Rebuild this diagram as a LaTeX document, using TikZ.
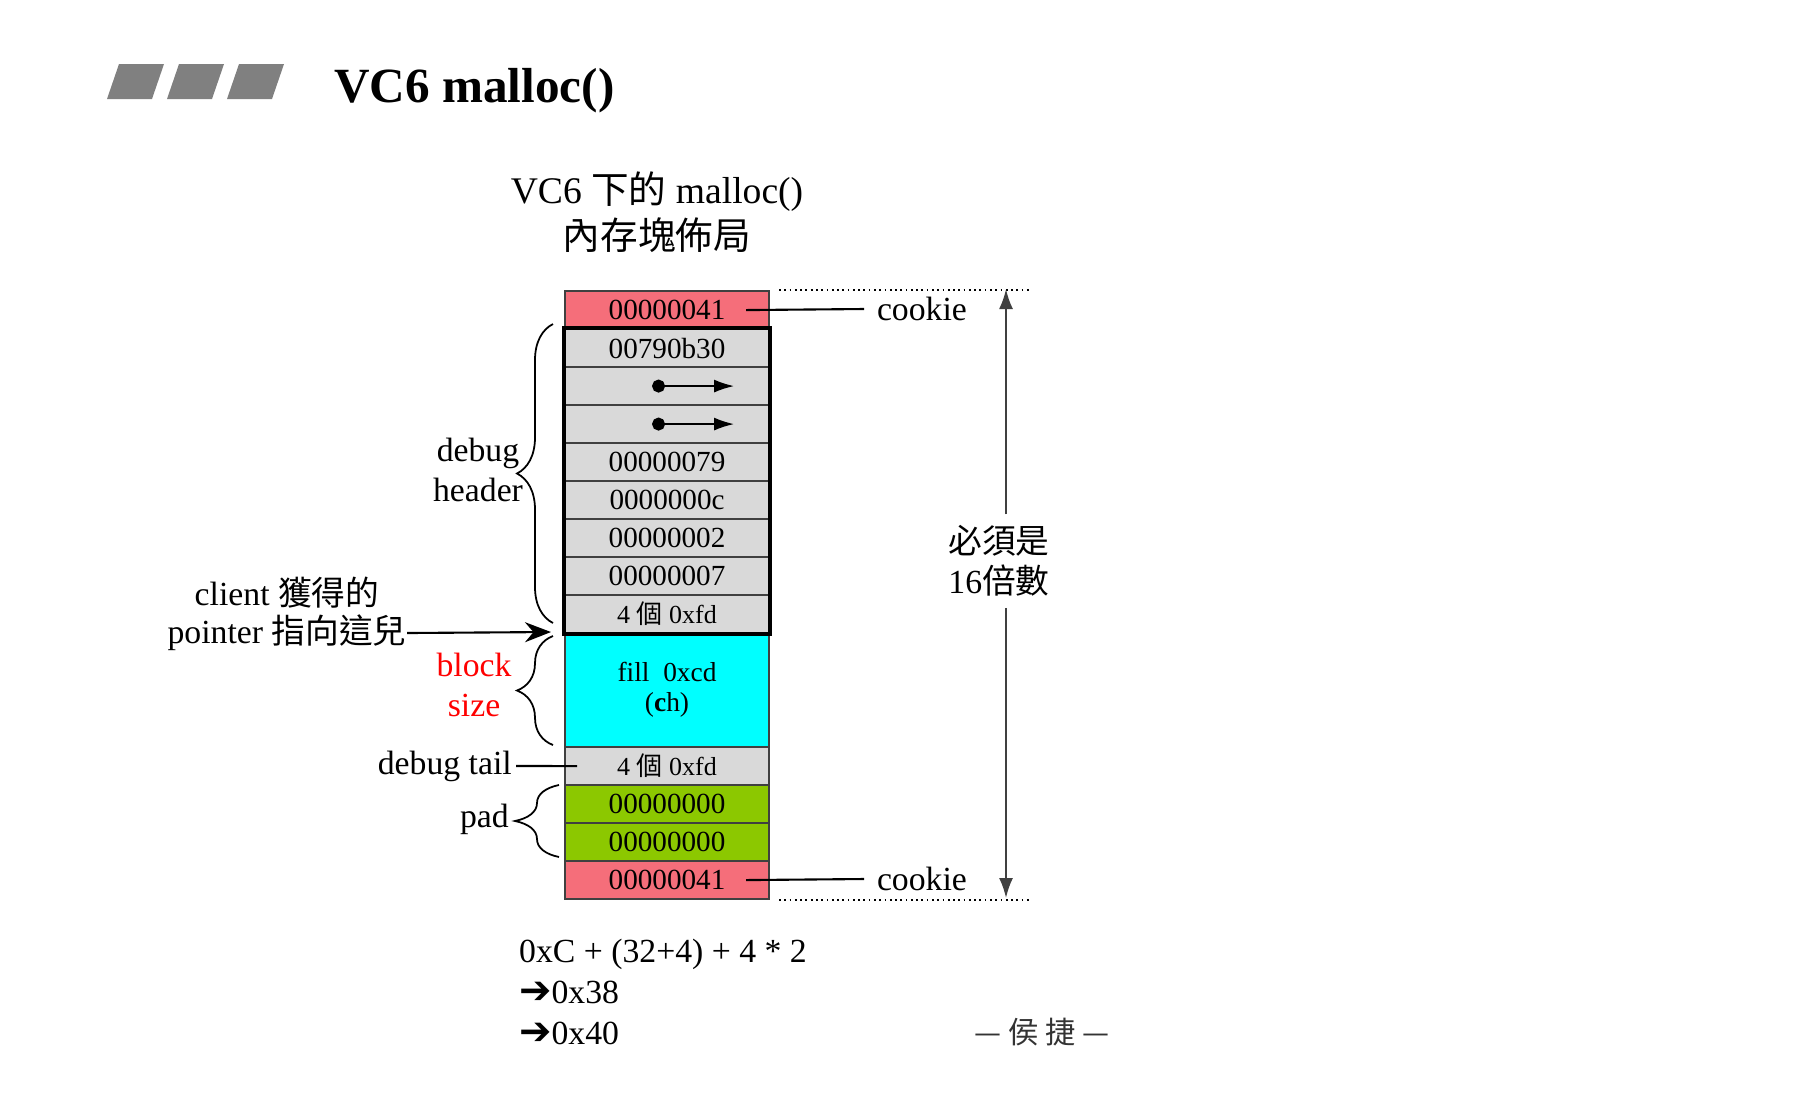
\documentclass[tikz,border=0pt]{standalone}
\usepackage{fontspec}
\setmainfont{Liberation Serif}
\newfontfamily\cjk{Noto Sans CJK TC}
\newfontfamily\symfont{DejaVu Sans}
\usetikzlibrary{positioning,decorations.pathreplacing,arrows.meta}
\definecolor{cookiered}{RGB}{245,110,122}
\definecolor{cellgray}{RGB}{217,217,217}
\definecolor{padgreen}{RGB}{140,200,0}
\definecolor{datacyan}{RGB}{0,255,255}
\definecolor{bargray}{RGB}{128,128,128}

\begin{document}
\begin{tikzpicture}[x=0.1mm,y=-0.1mm,
    cell/.style={draw=black!75,line width=0.6pt,fill=cellgray,minimum width=20.4mm,minimum height=3.8mm,
      inner sep=0pt,anchor=north west,font=\fontsize{8.3}{10}\selectfont},
    small/.style={font=\fontsize{7.4}{8.6}\selectfont},
    lbl/.style={font=\fontsize{9.6}{11.4}\selectfont,align=center,inner sep=1pt},
    brc/.style={decorate,decoration={brace,amplitude=3.6mm},line width=0.5pt},
    ptr/.style={{Circle[length=1.3mm]}-{Latex[length=2mm,width=1.3mm]},line width=0.5pt},
    dim/.style={-{Latex[length=2mm,width=1.4mm]},draw=black!75,line width=0.6pt},
    dots/.style={dash pattern=on 0.5pt off 1pt,line width=0.5pt}]
	\useasboundingbox (0,0) rectangle (1820,1118);
	%标题
	\foreach \i in {0,1,2}
		\fill[bargray] ({107+60*\i},99) -- ++(45,0) -- ++(12,-35) -- ++(-45,0) -- cycle;
	\node[anchor=base west,font=\fontsize{14}{16}\selectfont\bfseries] (title) at (322,102) {VC6 malloc()};
	\node[align=center,font=\fontsize{10.7}{13.1}\selectfont] (sub) at (657,212) {VC6 {\cjk 下的} malloc()\\{\cjk 內存塊佈局}};
	%内存块
	\node[cell,fill=cookiered] (ck-1) at (564,290) {00000041};
	\foreach \t [count=\i] in {00790b30,,,00000079,0000000c,00000002,00000007}
		\node[cell] (h-\i) at (564,{290+38*\i}) {\t};
	\node[cell,small] (h-8) at (564,594) {4 {\cjk 個} 0xfd};
	\node[cell,fill=datacyan,minimum height=11.4mm,align=center,font=\fontsize{7.8}{8.6}\selectfont] (data) at (564,632) {fill\ \ 0xcd\\(\textbf{c}h)};
	\node[cell,small] (tail) at (564,746) {4 {\cjk 個} 0xfd};
	\node[cell,fill=padgreen] (pad-1) at (564,784) {00000000};
	\node[cell,fill=padgreen] (pad-2) at (564,822) {00000000};
	\node[cell,fill=cookiered] (ck-2) at (564,860) {00000041};
	\draw[line width=1.3pt] (h-1.north west) rectangle (h-8.south east);
	\foreach \i in {2,3}
		\draw[ptr] ([xshift=-1.5mm]h-\i.center) -- ([xshift=6.7mm]h-\i.center);
	%右侧
	\node[lbl,anchor=west,inner sep=3.5pt] (ck-l1) at (864,309) {cookie};
	\node[lbl,anchor=west,inner sep=3.5pt] (ck-l2) at (864,879) {cookie};
	\draw[line width=0.6pt] ([xshift=7.9mm]ck-1.center) -- (ck-l1.west);
	\draw[line width=0.6pt] ([xshift=7.9mm]ck-2.center) -- (ck-l2.west);
	\draw[dots] ([xshift=0.9mm]ck-1.north east) -- ++(253,0);
	\draw[dots] ([xshift=0.9mm]ck-2.south east) -- ++(253,0);
	\node[lbl,inner sep=3pt] (mul) at (999,561) {{\cjk 必須是}\\16{\cjk 倍數}};
	\coordinate (m-top) at (1006,289);
	\coordinate (m-bot) at (1006,898);
	\draw[dim] (m-top |- mul.north) -- (m-top);
	\draw[dim] (m-bot |- mul.south) -- (m-bot);
	%左侧
	\draw[brc] (553,623) -- (553,324);
	\node[lbl] (dbg-h) at (478,470) {debug\\header};
	\node[lbl] (cl-1) at (287,593) {client {\cjk 獲得的}};
	\node[lbl,inner sep=0pt] (cl-2) at (287,633) {pointer {\cjk 指向這兒}};
	\coordinate (p-end) at (551,632);
	\draw[-{Stealth[length=2.6mm,width=2mm]},line width=0.6pt] (cl-2.east) -- (p-end);
	\draw[brc] (553,745) -- (553,636);
	\node[lbl,text=red] (blk) at (474,685) {block\\size};
	\node[lbl,anchor=east] (d-tail) at (516,766) {debug tail};
	\draw[line width=0.6pt] (d-tail.east) -- ([xshift=1.3mm]tail.west);
	\draw[brc,decoration={amplitude=4.4mm}] (559,857) -- (559,785);
	\node[lbl,anchor=east] (pad) at (513,819) {pad};
	%计算
	\node[lbl,anchor=west,align=left,font=\fontsize{9.6}{11.7}\selectfont] (calc) at (515,992) {0xC + (32+4) + 4 * 2\\{\symfont\bfseries\fontsize{11}{11.7}\selectfont ➔}0x38\\{\symfont\bfseries\fontsize{11}{11.7}\selectfont ➔}0x40};
	\node[font=\fontsize{8.6}{10}\selectfont\cjk,text=black!80] (author) at (1042,1032) {— 侯 捷 —};
\end{tikzpicture}
\end{document}
